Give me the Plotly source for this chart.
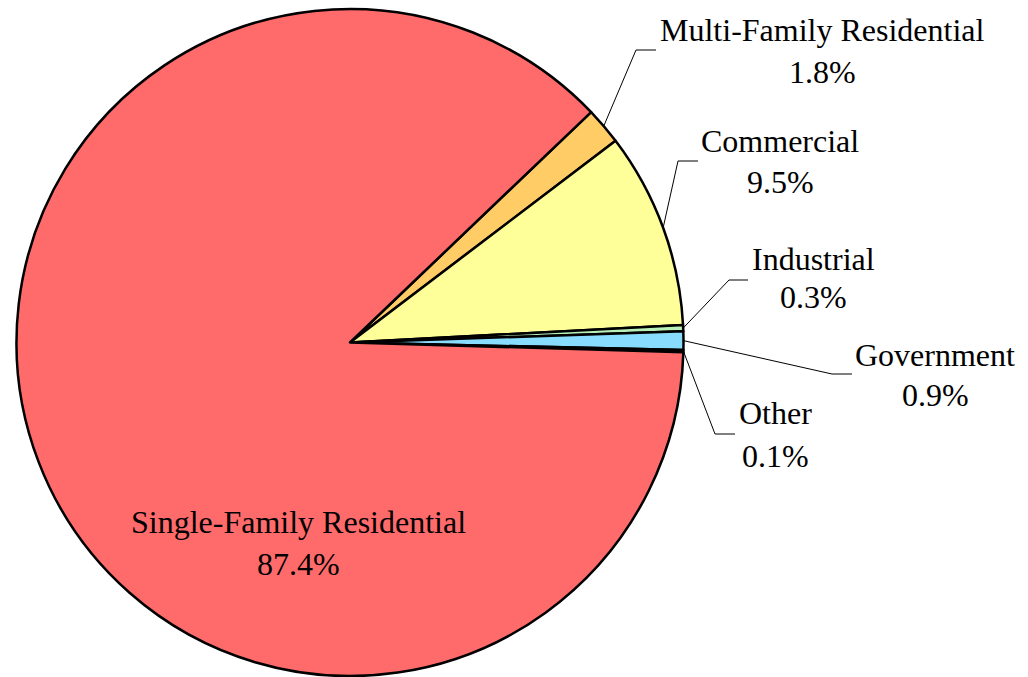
import math

import plotly.graph_objects as go

# 各類別用電比例（%），依圓餅順時針順序
labels = ["Multi-Family Residential", "Commercial", "Industrial", "Government", "Other", "Single-Family Residential"]
values = [1.8, 9.5, 0.3, 0.9, 0.1, 87.4]
colors = ["#FFCC66", "#FFFF99", "#B8F0B8", "#88DDFF", "#FF8080", "#FF6B6B"]

W, H = 1028, 677
CX, CY, R = 350, 342.5, 333.5
START_DEG = 43.7  # 第一片起始角（數學角度，逆時針為正）

FONT = dict(family="Liberation Serif, Times New Roman, serif", size=32, color="black")


def px(x, y):
    return x / W, 1 - y / H


# 外側標籤：(文字中心 x, 名稱 y, 百分比 y, 轉折點, 水平線終點)
outside = {
    "Multi-Family Residential": (822, 30, 72, (636, 50), 656),
    "Commercial": (780, 141, 182, (678, 161), 698),
    "Industrial": (813, 259, 297, (729, 280), 748),
    "Government": (935, 355, 395, (832, 374), 852),
    "Other": (775, 413, 456, (715, 434), 735),
}

fig = go.Figure(
    go.Pie(
        labels=labels,
        values=values,
        sort=False,
        direction="clockwise",
        rotation=90 - START_DEG,
        marker=dict(colors=colors, line=dict(color="black", width=2.5)),
        textinfo="none",
        hoverinfo="label+percent",
        domain=dict(x=[16 / W, 684 / W], y=[1 - 676 / H, 1 - 9 / H]),
        showlegend=False,
    )
)

annotations = []
shapes = []
total = sum(values)
cum = 0.0
for name, v in zip(labels, values):
    mid = START_DEG - (cum + v / 2) / total * 360
    cum += v
    if name not in outside:
        annotations.append(dict(x=298 / W, y=1 - 522 / H, text=name))
        annotations.append(dict(x=298 / W, y=1 - 564 / H, text=f"{v}%"))
        continue
    tx, ny, py, (ex, ey), hx = outside[name]
    sx = CX + R * math.cos(math.radians(mid))
    sy = CY - R * math.sin(math.radians(mid))
    p0, p1, p2 = px(sx, sy), px(ex, ey), px(hx, ey)
    shapes.append(
        dict(
            type="path",
            xref="paper",
            yref="paper",
            path=f"M {p0[0]},{p0[1]} L {p1[0]},{p1[1]} L {p2[0]},{p2[1]}",
            line=dict(color="black", width=1),
        )
    )
    annotations.append(dict(x=tx / W, y=1 - ny / H, text=name))
    annotations.append(dict(x=tx / W, y=1 - py / H, text=f"{v}%"))

for a in annotations:
    a.update(xref="paper", yref="paper", showarrow=False, font=FONT, xanchor="center", yanchor="middle")

fig.update_layout(
    width=W,
    height=H,
    margin=dict(l=0, r=0, t=0, b=0),
    paper_bgcolor="white",
    plot_bgcolor="white",
    annotations=annotations,
    shapes=shapes,
)

# 頁面預設 body 有 8px 外距，去掉讓圖貼齊視窗
fig.write_html(
    "out.html",
    config={"displayModeBar": False},
    post_script="document.body.style.margin='0';document.body.style.overflow='hidden';",
)
